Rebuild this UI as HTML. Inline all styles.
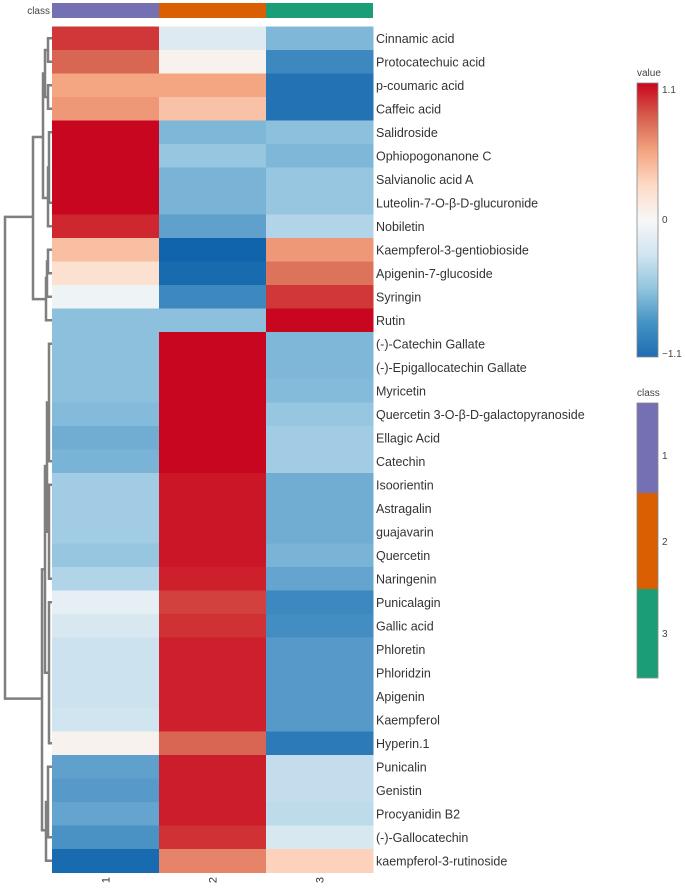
<!DOCTYPE html>
<html><head><meta charset="utf-8"><style>
body{margin:0;background:#fff;width:685px;height:890px;overflow:hidden;font-family:"Liberation Sans",sans-serif}
</style></head><body>
<svg id="chart" width="685" height="890" xmlns="http://www.w3.org/2000/svg">
<defs><linearGradient id="cb" x1="0" y1="0" x2="0" y2="1">
<stop offset="0" stop-color="#c9061f"/><stop offset="0.125" stop-color="#d6604d"/><stop offset="0.25" stop-color="#f4a582"/><stop offset="0.375" stop-color="#fddbc7"/><stop offset="0.5" stop-color="#f7f7f7"/><stop offset="0.625" stop-color="#d1e5f0"/><stop offset="0.75" stop-color="#92c5de"/><stop offset="0.875" stop-color="#4393c3"/><stop offset="1" stop-color="#1f6db3"/></linearGradient></defs>
<g id="heat"></g><g id="dendro" stroke="#7f7f7f" stroke-width="2.5" fill="none"></g>
<text x="50" y="14" font-size="10" fill="#444" text-anchor="end">class</text>
<g>
<text x="637" y="76" font-size="10" fill="#444">value</text>
<rect x="637" y="83" width="21" height="274" fill="url(#cb)" stroke="#888" stroke-width="0.8"/>
<text x="662" y="93" font-size="10" fill="#444">1.1</text>
<text x="662" y="223" font-size="10" fill="#444">0</text>
<text x="662" y="357" font-size="10" fill="#444">−1.1</text>
</g>
<g>
<text x="637" y="396" font-size="10" fill="#444">class</text>
<rect x="637" y="403" width="21" height="90" fill="#7570b3"/>
<rect x="637" y="493" width="21" height="96" fill="#d95f02"/>
<rect x="637" y="589" width="21" height="89" fill="#1b9e77"/>
<rect x="637" y="403" width="21" height="275" fill="none" stroke="#888" stroke-width="0.8"/>
<text x="662" y="459" font-size="10" fill="#444">1</text>
<text x="662" y="545" font-size="10" fill="#444">2</text>
<text x="662" y="637" font-size="10" fill="#444">3</text>
</g>
</svg>
<script>
const compounds=["Cinnamic acid","Protocatechuic acid","p-coumaric acid","Caffeic acid","Salidroside","Ophiopogonanone C","Salvianolic acid A","Luteolin-7-O-β-D-glucuronide","Nobiletin","Kaempferol-3-gentiobioside","Apigenin-7-glucoside","Syringin","Rutin","(-)-Catechin Gallate","(-)-Epigallocatechin Gallate","Myricetin","Quercetin 3-O-β-D-galactopyranoside","Ellagic Acid","Catechin","Isoorientin","Astragalin","guajavarin","Quercetin","Naringenin","Punicalagin","Gallic acid","Phloretin","Phloridzin","Apigenin","Kaempferol","Hyperin.1","Punicalin","Genistin","Procyanidin B2","(-)-Gallocatechin","kaempferol-3-rutinoside"];
const classes=["1","2","3"];
const class1=[0.95,0.8,0.55,0.6,1.1,1.1,1.1,1.1,1.0,0.42,0.22,-0.05,-0.55,-0.55,-0.55,-0.55,-0.58,-0.65,-0.62,-0.45,-0.45,-0.45,-0.5,-0.38,-0.1,-0.18,-0.25,-0.25,-0.25,-0.22,0.05,-0.72,-0.75,-0.7,-0.8,-1.05];
const class2=[-0.15,0.05,0.55,0.4,-0.6,-0.5,-0.62,-0.62,-0.72,-1.1,-1.05,-0.85,-0.55,1.1,1.1,1.1,1.1,1.1,1.1,1.05,1.05,1.05,1.05,1.02,0.92,0.97,1.02,1.02,1.02,1.02,0.8,1.03,1.03,1.03,0.97,0.68];
const class3=[-0.6,-0.85,-1.0,-1.0,-0.55,-0.6,-0.5,-0.5,-0.38,0.6,0.75,0.95,1.1,-0.6,-0.6,-0.58,-0.5,-0.45,-0.45,-0.65,-0.65,-0.65,-0.62,-0.7,-0.85,-0.82,-0.75,-0.75,-0.75,-0.75,-0.95,-0.3,-0.3,-0.32,-0.18,0.32];
const classColors=["#7570b3","#d95f02","#1b9e77"];
const series=[class1,class2,class3];
const X0=52,CW=107,Y0=26.5,RH=23.5;
const xs=i=>X0+i*CW, ys=r=>Y0+r*RH;
const stops=[[-1.1,[16,100,172]],[-0.825,[67,140,194]],[-0.55,[140,192,221]],[-0.275,[200,224,238]],[0,[247,247,247]],[0.275,[253,219,199]],[0.55,[244,165,130]],[0.825,[214,96,77]],[1.1,[201,6,31]]];
function col(v){v=Math.max(-1.1,Math.min(1.1,v));for(let i=0;i<stops.length-1;i++){const [a,ca]=stops[i],[b,cb]=stops[i+1];if(v<=b){const t=(v-a)/(b-a);return`rgb(${ca.map((c,k)=>Math.round(c+(cb[k]-c)*t)).join(',')})`;}}return'rgb(201,6,31)';}
const NS="http://www.w3.org/2000/svg",g=document.getElementById('heat');
function mk(t,a){const e=document.createElementNS(NS,t);for(const k in a)e.setAttribute(k,a[k]);return e;}
classes.forEach((c,i)=>{
 const r=mk('rect',{x:xs(i),y:3,width:CW,height:15,fill:classColors[i]});
 
 g.appendChild(r);
 const t=mk('text',{x:0,y:0,'font-size':11,fill:'#333','text-anchor':'middle',transform:`translate(${xs(i)+CW/2+4},880) rotate(-90)`});t.textContent=c;
 
 g.appendChild(t);
 series[i].forEach((v,r)=>{
  const c2=mk('rect',{x:xs(i),y:ys(r),width:CW+0.5,height:RH+0.5,fill:col(v)});
  
  g.appendChild(c2);
 });
});
compounds.forEach((n,r)=>{
 const t=mk('text',{x:376,y:ys(r)+RH/2+4.5,'font-size':12.5,fill:'#333'});t.textContent=n;
 
 g.appendChild(t);
});
const d=document.getElementById('dendro');
const cy=r=>ys(r)+RH/2;
function link(x,ya,yb,xa,xb){d.appendChild(mk('path',{d:`M${xa},${ya}H${x}V${yb}H${xb}`}));}
link(48,cy(0),cy(1),52,52);link(48,cy(2),cy(3),52,52);
link(45,cy(0.5),cy(2.5),48,48);
link(49,cy(4),cy(7),52,52);link(48,cy(5.5),cy(8),49,52);
link(43,cy(1.5),cy(6.8),45,48);
link(48,cy(9),cy(10),52,52);link(47,cy(9.5),cy(11),48,52);link(46,cy(10.2),cy(12),47,52);
link(33,cy(4.2),cy(11.1),43,46);
link(49,cy(13),cy(18),52,52);link(49,cy(19),cy(23),52,52);link(47,cy(15.5),cy(21),49,49);
link(49,cy(24),cy(30),52,52);link(45,cy(18.2),cy(27),47,49);
link(48,cy(31),cy(34),52,52);link(46,cy(32.5),cy(35),48,52);
link(42,cy(22.6),cy(33.7),45,46);
link(5,cy(7.6),cy(28.1),33,42);
</script>
</body></html>
